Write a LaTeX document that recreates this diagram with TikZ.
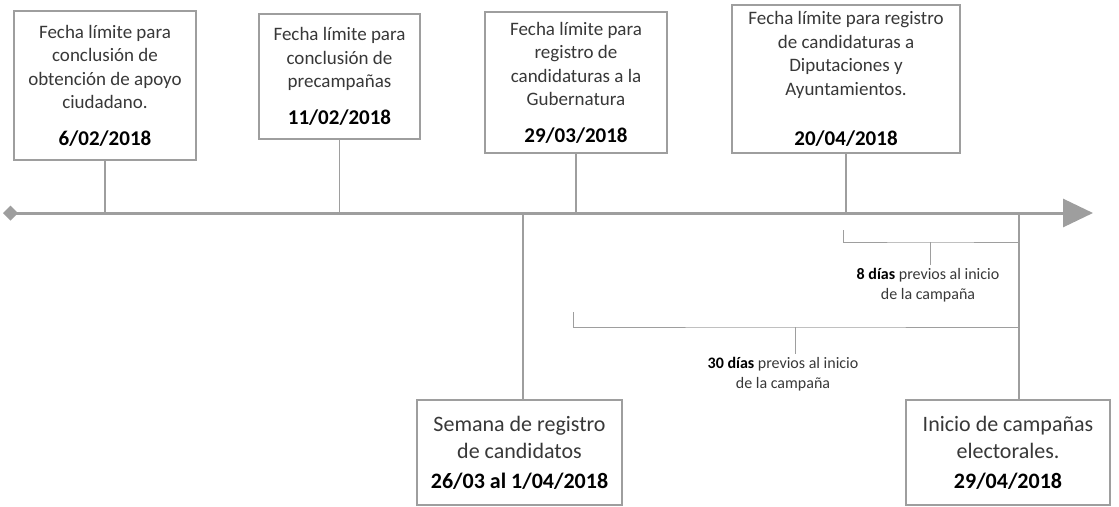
\documentclass[tikz,border=0pt]{standalone}
\usepackage{fontspec}
\setmainfont{Carlito}
\usetikzlibrary{arrows.meta}

\definecolor{lineagris}{gray}{0.62}
\definecolor{textogris}{gray}{0.22}
\newcommand{\fecha}[1]{{\fontsize{21}{25}\selectfont\bfseries\color{black}#1}}
\newcommand{\fechab}[1]{{\fontsize{22}{27}\selectfont\bfseries\color{black}#1}}

\tikzset{
  caja/.style={draw=lineagris, line width=1.3pt, fill=white, align=center,
    inner sep=0pt, text=textogris, font=\fontsize{19}{23.5}\selectfont},
  cajab/.style={caja, font=\fontsize{22}{27.5}\selectfont},
  guia/.style={draw=lineagris, line width=1.3pt},
  nota/.style={align=center, text=textogris, font=\fontsize{16}{20}\selectfont}
}

\begin{document}
\begin{tikzpicture}[x=1pt,y=-1pt]
            \useasboundingbox (0,0) rectangle (1119,506);
            % eje del tiempo
            \coordinate (ini) at (3,213);
            \coordinate (fin) at (1093,213);
            \draw[lineagris, line width=3pt, {Turned Square[width=15pt,length=15pt]}-{Triangle[width=28pt,length=30pt]}] (ini) -- (fin);

            % fechas arriba del eje
            \node[caja, minimum width=182pt, minimum height=149pt] (b1) at (105,85.5)
                {Fecha límite para\\conclusión de\\obtención de apoyo\\ciudadano.\\[13pt]\fecha{6/02/2018}};
            \node[caja, minimum width=161pt, minimum height=125pt] (b2) at (339.5,76.5)
                {Fecha límite para\\conclusión de\\precampañas\\[13pt]\fecha{11/02/2018}};
            \node[caja, minimum width=182pt, minimum height=141pt] (b3) at (576,82.5)
                {Fecha límite para\\registro de\\candidaturas a la\\Gubernatura\\[13pt]\fecha{29/03/2018}};
            \node[caja, minimum width=228pt, minimum height=148pt] (b4) at (846,79)
                {Fecha límite para registro\\de candidaturas a\\Diputaciones y\\Ayuntamientos.\\[27pt]\fecha{20/04/2018}};

            \draw[guia] (b1.south) -- (b1.south |- ini);
            \draw[guia] (b2.south) -- (b2.south |- ini);
            \draw[guia] (b3.south) -- (b3.south |- ini);
            \draw[guia] (b4.south) -- (b4.south |- ini);

            % fechas abajo del eje
            \node[cajab, minimum width=205pt, minimum height=105pt] (b5) at (519.5,452.5)
                {Semana de registro\\de candidatos\\[2pt]\fechab{26/03 al 1/04/2018}};
            \node[cajab, minimum width=204pt, minimum height=105pt] (b6) at (1008,452.5)
                {Inicio de campañas\\electorales.\\[2pt]\fechab{29/04/2018}};

            \coordinate (t5) at (523,213);
            \coordinate (t6) at (1019,213);
            \draw[guia] (t5) -- (t5 |- b5.north);
            \draw[guia] (t6) -- (t6 |- b6.north);

            % llaves de plazos
            \node[nota] (n8) at (928,285) {\textbf{\color{black}8 días} previos al inicio\\de la campaña};
            \node[nota] (n30) at (783,374) {\textbf{\color{black}30 días} previos al inicio\\de la campaña};

            \coordinate (k8) at (843,230);
            \coordinate (m8) at (930,242);
            \coordinate (k30) at (573,312);
            \coordinate (m30) at (795,327);
            \draw[guia, line width=1pt] (k8) |- (m8) -- (m8 -| t6);
            \draw[guia, line width=1pt] (k30) |- (m30) -- (m30 -| t6);
            \draw[guia, line width=1pt] (m8) -- (m8 |- n8.north);
            \draw[guia, line width=1pt] (m30) -- (m30 |- n30.north);

        \end{tikzpicture}
\end{document}
